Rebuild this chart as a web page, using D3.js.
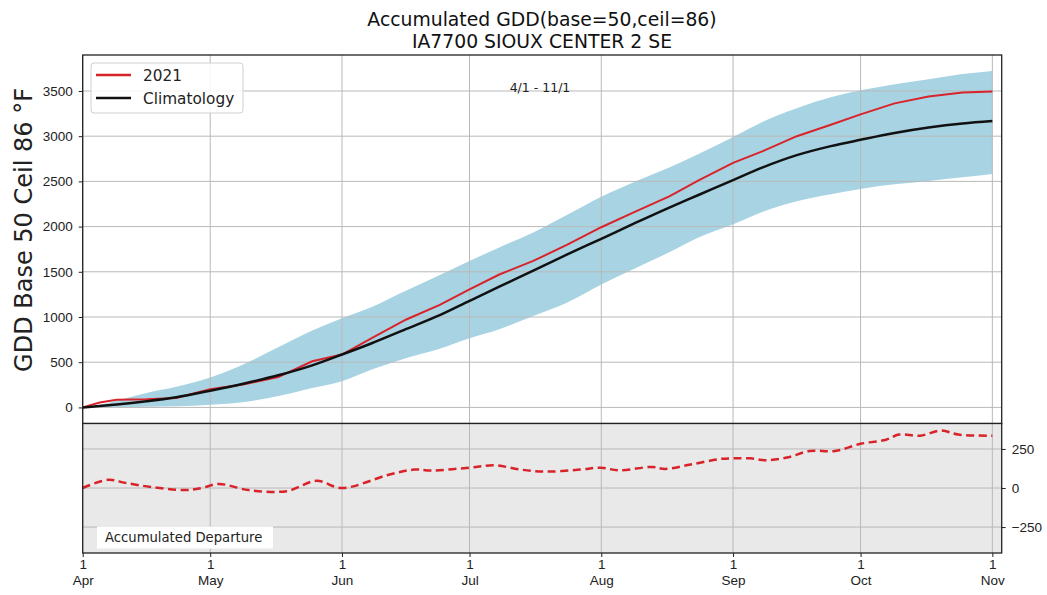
<!DOCTYPE html>
<html>
<head>
<meta charset="utf-8">
<script src="https://cdn.jsdelivr.net/npm/d3@7"></script>
<style>
  body { margin: 0; background: #fff; }
  svg { font-family: "DejaVu Sans", sans-serif; }
  .grid line { stroke: #b9b9b9; stroke-width: 1; }
  .axis path { display: none; }
  .axis line { stroke: #222; }
  .axis text { fill: #222; font-size: 13.5px; }
</style>
</head>
<body>
<svg id="chart" width="1047" height="595"></svg>
<script>
// sample dates for the top panel
const dates = ["2021-04-01","2021-04-05","2021-04-09","2021-04-16","2021-04-23","2021-05-01",
  "2021-05-09","2021-05-17","2021-05-25","2021-06-01","2021-06-08","2021-06-16","2021-06-24",
  "2021-07-01","2021-07-08","2021-07-16","2021-07-24","2021-08-01","2021-08-09","2021-08-17",
  "2021-08-24","2021-09-01","2021-09-08","2021-09-16","2021-09-24","2021-10-01","2021-10-09",
  "2021-10-17","2021-10-25","2021-11-01"];

const climatology = [0, 15, 32, 68, 112, 185, 265, 355, 465, 585, 710, 865, 1020, 1178,
  1335, 1512, 1692, 1865, 2040, 2210, 2352, 2515, 2655, 2790, 2890, 2960, 3035, 3095, 3140, 3167];

const obs2021 = [0, 55, 85, 90, 105, 200, 255, 335, 510, 585, 765, 970, 1135, 1305,
  1470, 1620, 1800, 1993, 2165, 2335, 2515, 2705, 2835, 3000, 3127, 3241, 3363, 3440, 3482, 3495];

const bandUpper = [0, 30, 75, 160, 228, 330, 480, 665, 850, 985, 1110, 1290, 1465, 1620,
  1770, 1935, 2130, 2330, 2500, 2655, 2805, 2990, 3160, 3310, 3430, 3507, 3575, 3630, 3688, 3722];

const bandLower = [0, 0, 2, 7, 13, 30, 60, 125, 215, 290, 420, 545, 650, 765,
  865, 1010, 1160, 1360, 1540, 1715, 1881, 2025, 2165, 2280, 2357, 2417, 2467, 2505, 2545, 2583];

// accumulated departure (bottom panel)
const depDates = ["2021-04-01","2021-04-07","2021-04-11","2021-04-17","2021-04-25","2021-04-29",
  "2021-05-03","2021-05-10","2021-05-19","2021-05-26","2021-06-01","2021-06-12","2021-06-18",
  "2021-06-22","2021-07-01","2021-07-07","2021-07-13","2021-07-19","2021-07-27","2021-08-01",
  "2021-08-05","2021-08-13","2021-08-16","2021-08-22","2021-08-29","2021-09-01","2021-09-05",
  "2021-09-09","2021-09-14","2021-09-19","2021-09-25","2021-10-01","2021-10-07","2021-10-10",
  "2021-10-15","2021-10-20","2021-10-24","2021-11-01"];
const departure = [0, 53, 33, 7, -13, 0, 26, -13, -20, 46, 0, 85, 118, 112, 130, 145, 118, 105,
  118, 130, 113, 135, 122, 150, 186, 190, 190, 178, 197, 237, 237, 283, 309, 342, 335, 368, 342, 335];

const monthTicks = ["2021-04-01","2021-05-01","2021-06-01","2021-07-01","2021-08-01",
  "2021-09-01","2021-10-01","2021-11-01"];
const topTicks = [0, 500, 1000, 1500, 2000, 2500, 3000, 3500];
const depTicks = [-250, 0, 250];

const parse = d3.utcParse("%Y-%m-%d");
const left = 82.7, right = 1001.7, top1 = 55, mid = 423.5, bot = 553;

const svg = d3.select("#chart");

const start = parse("2021-04-01");
const x = d3.scaleUtc()
  .domain([start, new Date(+start + 216.2 * 864e5)])
  .range([left, right]);
const yTop = d3.scaleLinear().domain([-178, 3898]).range([mid, top1]);
const yBot = d3.scaleLinear().domain([-416, 413]).range([bot, mid]);

const rows = dates.map((d, i) => ({
  date: parse(d), clim: climatology[i], obs: obs2021[i], hi: bandUpper[i], lo: bandLower[i]
}));
const depRows = depDates.map((d, i) => ({ date: parse(d), v: departure[i] }));
const months = monthTicks.map(parse);

// ---- top panel ----
svg.append("path")
  .datum(rows)
  .attr("fill", "#a8d3e3")
  .attr("d", d3.area().curve(d3.curveMonotoneX)
    .x(d => x(d.date)).y0(d => yTop(d.lo)).y1(d => yTop(d.hi)));

const gridTop = svg.append("g").attr("class", "grid");
gridTop.selectAll("line.h").data(topTicks).join("line")
  .attr("x1", left).attr("x2", right)
  .attr("y1", d => yTop(d)).attr("y2", d => yTop(d));
gridTop.selectAll("line.v").data(months).join("line")
  .attr("x1", d => x(d)).attr("x2", d => x(d))
  .attr("y1", top1).attr("y2", mid);

svg.append("path")
  .datum(rows)
  .attr("fill", "none").attr("stroke", "#d9232a").attr("stroke-width", 2)
  .attr("d", d3.line().x(d => x(d.date)).y(d => yTop(d.obs)));

svg.append("path")
  .datum(rows)
  .attr("fill", "none").attr("stroke", "#111").attr("stroke-width", 2.5)
  .attr("d", d3.line().curve(d3.curveMonotoneX).x(d => x(d.date)).y(d => yTop(d.clim)));

svg.append("g")
  .attr("class", "axis")
  .attr("transform", `translate(${left},0)`)
  .call(d3.axisLeft(yTop).tickValues(topTicks).tickSize(4).tickPadding(6).tickFormat(d3.format("d")));

svg.append("rect")
  .attr("x", left).attr("y", top1).attr("width", right - left).attr("height", mid - top1)
  .attr("fill", "none").attr("stroke", "#222").attr("stroke-width", 1.3);

svg.append("text")
  .attr("x", 540).attr("y", 92)
  .attr("text-anchor", "middle").attr("font-size", 12.5).attr("fill", "#222")
  .text("4/1 - 11/1");

// legend
const lg = svg.append("g");
lg.append("rect").attr("x", 91).attr("y", 63).attr("width", 152).attr("height", 50)
  .attr("rx", 3).attr("fill", "#fff").attr("fill-opacity", 0.85)
  .attr("stroke", "#d0d0d0");
[["2021", "#d9232a", 75], ["Climatology", "#111", 98]].forEach(([lab, col, yy]) => {
  lg.append("line").attr("x1", 96).attr("x2", 131).attr("y1", yy).attr("y2", yy)
    .attr("stroke", col).attr("stroke-width", 2.5);
  lg.append("text").attr("x", 143).attr("y", yy + 5.5).attr("font-size", 15.3)
    .attr("fill", "#222").text(lab);
});

// ---- bottom panel ----
svg.append("rect")
  .attr("x", left).attr("y", mid).attr("width", right - left).attr("height", bot - mid)
  .attr("fill", "#e9e9e9");

const gridBot = svg.append("g").attr("class", "grid");
gridBot.selectAll("line.h").data(depTicks).join("line")
  .attr("x1", left).attr("x2", right)
  .attr("y1", d => yBot(d)).attr("y2", d => yBot(d));
gridBot.selectAll("line.v").data(months).join("line")
  .attr("x1", d => x(d)).attr("x2", d => x(d))
  .attr("y1", mid).attr("y2", bot);

svg.append("path")
  .datum(depRows)
  .attr("fill", "none").attr("stroke", "#d9232a").attr("stroke-width", 2.5)
  .attr("stroke-dasharray", "8,4.5")
  .attr("d", d3.line().curve(d3.curveCatmullRom).x(d => x(d.date)).y(d => yBot(d.v)));

svg.append("rect").attr("x", 97).attr("y", 526.5).attr("width", 176).attr("height", 22)
  .attr("fill", "#fff");
svg.append("text").attr("x", 105).attr("y", 542).attr("font-size", 13.2).attr("fill", "#222")
  .text("Accumulated Departure");

svg.append("g")
  .attr("class", "axis")
  .attr("transform", `translate(${right},0)`)
  .call(d3.axisRight(yBot).tickValues(depTicks).tickSize(4).tickPadding(6)
    .tickFormat(d => d < 0 ? "\u2212" + Math.abs(d) : d));

const xAxis = svg.append("g")
  .attr("class", "axis")
  .attr("transform", `translate(0,${bot})`)
  .call(d3.axisBottom(x).tickValues(months).tickSize(4).tickPadding(2));
xAxis.selectAll(".tick text").each(function(d) {
  const t = d3.select(this);
  t.text(null);
  t.append("tspan").attr("x", 0).attr("dy", "0.71em").text("1");
  t.append("tspan").attr("x", 0).attr("dy", "1.2em").text(d3.utcFormat("%b")(d));
});

svg.append("rect")
  .attr("x", left).attr("y", mid).attr("width", right - left).attr("height", bot - mid)
  .attr("fill", "none").attr("stroke", "#222").attr("stroke-width", 1.3);

// titles
svg.append("text")
  .attr("transform", "translate(32,230) rotate(-90)")
  .attr("text-anchor", "middle")
  .attr("font-size", 24).attr("fill", "#222")
  .text("GDD Base 50 Ceil 86 \u00b0F");

svg.append("text").attr("x", 542).attr("y", 26).attr("text-anchor", "middle")
  .attr("font-size", 18.8).attr("fill", "#111").text("Accumulated GDD(base=50,ceil=86)");
svg.append("text").attr("x", 542).attr("y", 48).attr("text-anchor", "middle")
  .attr("font-size", 18.8).attr("fill", "#111").text("IA7700 SIOUX CENTER 2 SE");
</script>
</body>
</html>
